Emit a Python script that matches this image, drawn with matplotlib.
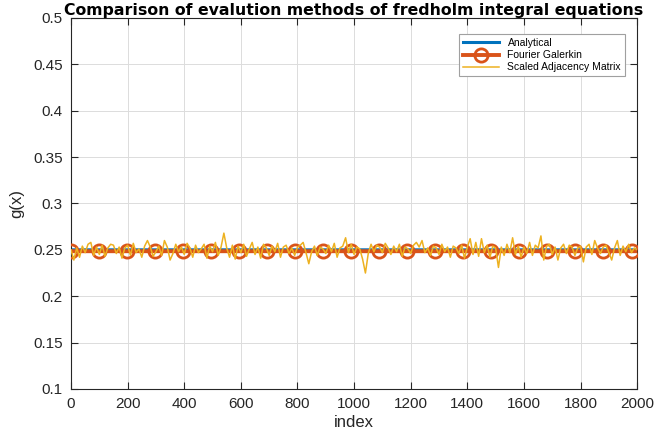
import numpy as np
import matplotlib
matplotlib.use('Agg')
import matplotlib.pyplot as plt

plt.rcParams['font.family'] = ['Liberation Sans', 'DejaVu Sans']

# data
analytical_value = 0.25
galerkin_value = 0.2485
galerkin_x = np.arange(0, 2000)

adj_x = np.arange(0, 2001, 10)
# deviation from 0.25 in thousandths
adj_dev = [
    0, -11, 2, -8, 4, -3, 6, 8, -6, 3,
    -5, 5, -7, 2, 6, 5, -4, 3, -9, 2,
    5, -6, 7, -3, 1, -8, 4, 10, 3, -7,
    -2, 4, -6, 10, 3, -11, -4, 6, -2, 3,
    -5, 7, 2, -8, 5, -3, 1, 6, -9, 4,
    -2, 8, -6, 3, 18, 2, -8, 5, -10, 4,
    -3, 6, -7, 1, 8, -5, 3, -9, 6, 2,
    -6, 4, -2, 7, -8, 3, 5, -4, 2, -6,
    3, 5, 8, -3, -15, -2, 4, -6, 3, 1,
    -4, 5, -2, 7, -8, 2, 4, 13, -3, 6,
    -5, 3, 1, -10, -25, -4, 6, -2, 5, 3,
    -3, 7, 2, -5, 4, -2, 6, -7, 3, 1,
    -4, 5, 8, 3, 10, -3, 2, -6, 4, 2,
    -5, 6, -2, 3, -8, 4, 2, -4, 5, -9,
    3, 12, -5, 8, -7, 12, -3, 5, -8, 4,
    2, -19, 3, -6, 6, -3, 13, -5, 4, -8,
    3, -4, 8, -6, 5, 2, 15, -11, 4, 6,
    -5, 3, -11, 2, 6, -4, 5, 3, -6, 2,
    4, -13, 3, 6, -5, 10, 2, -4, 3, 5,
    -3, -11, 2, 10, -6, 4, -2, 6, -3, 2,
    0,
]
adj_y = 0.25 + np.array(adj_dev) / 1000.0

fig = plt.figure(figsize=(6.7, 4.38), dpi=100)
ax = fig.add_axes([0.106, 0.112, 0.845, 0.847])

ax.plot(galerkin_x, np.full(galerkin_x.shape, analytical_value), color='#0072BD',
        linewidth=2.2, label='Analytical', zorder=2)
ax.plot(galerkin_x, np.full(galerkin_x.shape, galerkin_value), color='#D95319',
        linewidth=2.8, marker='o', markersize=9.5, markerfacecolor='none',
        markeredgewidth=2, markevery=99, label='Fourier Galerkin', zorder=3)
ax.plot(adj_x, adj_y, color='#EDB120', linewidth=1.1,
        label='Scaled Adjacency Matrix', zorder=4)

ax.set_xlim(0, 2000)
ax.set_ylim(0.1, 0.5)
ax.set_xticks(np.arange(0, 2001, 200))
ax.set_yticks(np.arange(0.1, 0.501, 0.05))
ax.set_yticklabels(['0.1', '0.15', '0.2', '0.25', '0.3', '0.35', '0.4', '0.45', '0.5'])

ax.grid(True, color='#dcdcdc', linewidth=0.7)
ax.set_axisbelow(True)
ax.tick_params(direction='in', top=True, right=True, length=5, labelsize=11,
               colors='#262626', pad=6)
for s in ax.spines.values():
    s.set_linewidth(0.8)
    s.set_color('#262626')

ax.set_xlabel('index', fontsize=12, color='#262626', labelpad=3)
ax.set_ylabel('g(x)', fontsize=12, color='#262626', labelpad=6)
ax.set_title('Comparison of evalution methods of fredholm integral equations',
             fontsize=11.3, fontweight='bold', pad=2, family='DejaVu Sans')

leg = ax.legend(loc='upper right', bbox_to_anchor=(0.979, 0.957), fontsize=7.5,
                borderaxespad=0, fancybox=False, edgecolor='#a0a0a0', framealpha=1,
                handlelength=3.5, borderpad=0.4, labelspacing=0.2)
leg.get_frame().set_linewidth(0.8)

fig.savefig('out.png', dpi=100)
